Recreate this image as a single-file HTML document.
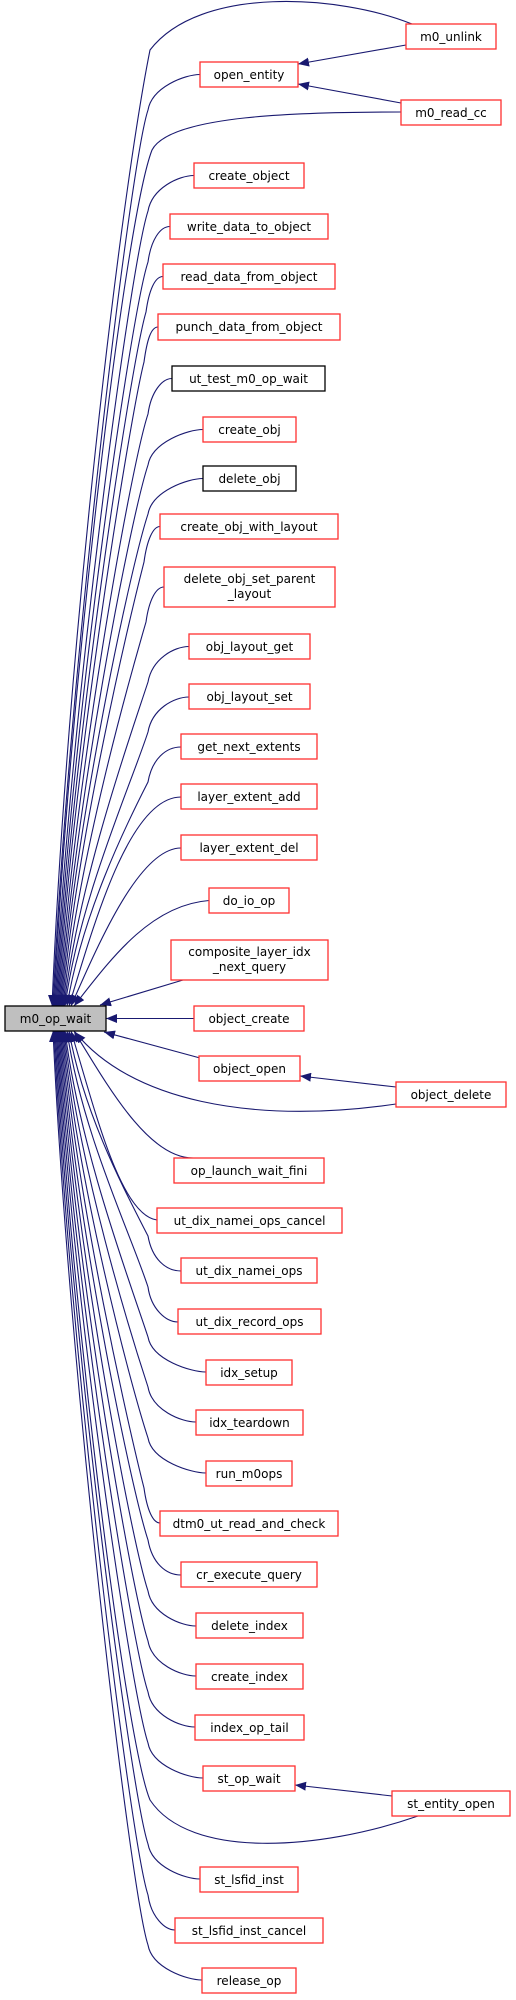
<!DOCTYPE html>
<html><head><meta charset="utf-8"><style>
html,body{margin:0;padding:0;background:#fff;}
svg{display:block;}
text{font-family:"DejaVu Sans","Liberation Sans",sans-serif;font-size:12px;fill:#000;}
.e{fill:none;stroke:#191970;stroke-width:1.1;}
.r{fill:#fff;stroke:#ff3030;stroke-width:1.3;}
.k{fill:#fff;stroke:#000;stroke-width:1.3;}
</style></head><body>
<svg width="516" height="2000" viewBox="0 0 516 2000" xmlns="http://www.w3.org/2000/svg">
<defs>
<marker id="a" markerUnits="userSpaceOnUse" markerWidth="12" markerHeight="9" refX="11" refY="4.5" orient="auto-start-reverse"><path d="M0,0 L11,4.5 L0,9 z" fill="#191970"/></marker>
</defs>
<g class="e" marker-start="url(#a)">
<path d="M52,1006 C67,650 120,200 150,50 C200,-15 340,-5 412,24"/>
<path d="M53,1006 C68,680 130,164 148,110 C152,87 185,74.5 200,74.5"/>
<path d="M54,1006 C69,690 125,220 152,150 C170,115 300,112 401,112"/>
<path d="M55,1006 C70,715 130,266 148,211 C152,188 179,175.5 194,175.5"/>
<path d="M56,1006 C71,733 130,317 148,262 C151,240 160,226.5 170,226.5"/>
<path d="M57,1006 C72,751 130,367 146,312 C149,290 155,276.5 163,276.5"/>
<path d="M58,1006 C73,768 130,417 144,362 C147,340 151,327 158,327"/>
<path d="M59,1006 C74,786 130,469 148,414 C151,392 162,378.5 172,378.5"/>
<path d="M60,1006 C75,804 130,520 148,465 C152,442 188,429.5 203,429.5"/>
<path d="M61,1006 C76,821 130,569 148,514 C152,491 188,478.5 203,478.5"/>
<path d="M62,1006 C77,838 130,617 144,562 C147,540 153,526.5 160,526.5"/>
<path d="M63,1006 C78,859 130,677 146,622 C149,600 156,587 164,587"/>
<path d="M64,1006 C79,880 130,737 148,682 C152,659 174,646.5 189,646.5"/>
<path d="M65,1006 C80,898 130,787 148,732 C152,709 174,697 189,697"/>
<path d="M67,1006 C82,915 125,827 148,782 C152,759 166,747 181,747"/>
<path d="M69,1006 C95,920 130,797 181,797"/>
<path d="M71,1006 C100,940 140,848 181,848"/>
<path d="M74,1006 C110,960 150,905 209,900.5"/>
<path d="M100,1005 L183,980"/>
<path d="M106,1018.5 L194,1018.5"/>
<path d="M104,1032 L200,1058"/>
<path d="M75,1032 C130,1100 250,1125 396,1104"/>
<path d="M74,1031 C110,1090 150,1160 195,1158"/>
<path d="M71,1031 C95,1110 120,1215 157,1220"/>
<path d="M69,1031 C84,1115 125,1191 148,1236 C152,1259 166,1271 181,1271"/>
<path d="M67,1031 C82,1133 130,1232 148,1287 C151,1309 166,1322 178,1322"/>
<path d="M65,1031 C80,1150 130,1282 148,1337 C152,1360 191,1372 206,1372"/>
<path d="M64,1031 C79,1168 130,1332 148,1387 C152,1410 181,1422 196,1422"/>
<path d="M63,1031 C78,1186 130,1383 148,1438 C152,1461 191,1473 206,1473"/>
<path d="M62,1031 C77,1203 130,1433 144,1488 C147,1510 153,1523 160,1523"/>
<path d="M61,1031 C76,1221 130,1485 148,1540 C152,1563 166,1575 181,1575"/>
<path d="M60,1031 C75,1239 130,1536 148,1591 C152,1614 181,1626 196,1626"/>
<path d="M59,1031 C74,1257 130,1586 148,1641 C152,1664 181,1676 196,1676"/>
<path d="M58,1031 C73,1275 130,1637 148,1692 C152,1715 180,1727 195,1727"/>
<path d="M57,1031 C72,1292 130,1688 148,1743 C152,1766 188,1778 203,1778"/>
<path d="M56,1031 C71,1300 125,1740 150,1800 C190,1860 320,1850 418,1816"/>
<path d="M55,1031 C70,1328 130,1789 148,1844 C152,1867 185,1879 200,1879"/>
<path d="M54,1031 C69,1346 130,1840 148,1895 C151,1917 165,1930 175,1930"/>
<path d="M53,1031 C68,1363 130,1890 148,1945 C152,1968 187,1980 202,1980"/>
<path d="M298,64 L406,45"/>
<path d="M298,84 L401,103"/>
<path d="M300,1076 L396,1087"/>
<path d="M295,1785 L392,1796"/>
</g>
<g>
<rect x="5" y="1006" width="101" height="25" fill="#bfbfbf" stroke="#000" stroke-width="1.3"/>
<text x="55.5" y="1023" text-anchor="middle">m0_op_wait</text>
</g>
<g text-anchor="middle">
<rect class="r" x="406" y="24" width="90" height="25"/><text x="451" y="41">m0_unlink</text>
<rect class="r" x="200" y="62" width="98" height="25"/><text x="249" y="79">open_entity</text>
<rect class="r" x="401" y="100" width="100" height="25"/><text x="451" y="117">m0_read_cc</text>
<rect class="r" x="194" y="163" width="110" height="25"/><text x="249" y="180">create_object</text>
<rect class="r" x="170" y="214" width="158" height="25"/><text x="249" y="231">write_data_to_object</text>
<rect class="r" x="163" y="264" width="172" height="25"/><text x="249" y="281">read_data_from_object</text>
<rect class="r" x="158" y="314" width="182" height="26"/><text x="249" y="331">punch_data_from_object</text>
<rect class="k" x="172" y="366" width="153" height="25"/><text x="248.5" y="383">ut_test_m0_op_wait</text>
<rect class="r" x="203" y="417" width="93" height="25"/><text x="249.5" y="434">create_obj</text>
<rect class="k" x="203" y="466" width="93" height="25"/><text x="249.5" y="483">delete_obj</text>
<rect class="r" x="160" y="514" width="178" height="25"/><text x="249" y="531">create_obj_with_layout</text>
<rect class="r" x="164" y="567" width="171" height="40"/><text x="249.5" y="583">delete_obj_set_parent</text><text x="249.5" y="598">_layout</text>
<rect class="r" x="189" y="634" width="121" height="25"/><text x="249.5" y="651">obj_layout_get</text>
<rect class="r" x="189" y="684" width="121" height="25"/><text x="249.5" y="701">obj_layout_set</text>
<rect class="r" x="181" y="734" width="136" height="25"/><text x="249" y="751">get_next_extents</text>
<rect class="r" x="181" y="784" width="136" height="25"/><text x="249" y="801">layer_extent_add</text>
<rect class="r" x="181" y="835" width="136" height="25"/><text x="249" y="852">layer_extent_del</text>
<rect class="r" x="209" y="888" width="80" height="25"/><text x="249" y="905">do_io_op</text>
<rect class="r" x="171" y="940" width="157" height="40"/><text x="249.5" y="956">composite_layer_idx</text><text x="249.5" y="971">_next_query</text>
<rect class="r" x="194" y="1006" width="110" height="25"/><text x="249" y="1023">object_create</text>
<rect class="r" x="199" y="1056" width="101" height="25"/><text x="249.5" y="1073">object_open</text>
<rect class="r" x="396" y="1082" width="110" height="25"/><text x="451" y="1099">object_delete</text>
<rect class="r" x="174" y="1158" width="150" height="25"/><text x="249" y="1175">op_launch_wait_fini</text>
<rect class="r" x="157" y="1208" width="185" height="25"/><text x="249.5" y="1225">ut_dix_namei_ops_cancel</text>
<rect class="r" x="181" y="1258" width="136" height="25"/><text x="249" y="1275">ut_dix_namei_ops</text>
<rect class="r" x="178" y="1309" width="143" height="25"/><text x="249.5" y="1326">ut_dix_record_ops</text>
<rect class="r" x="206" y="1360" width="86" height="25"/><text x="249" y="1377">idx_setup</text>
<rect class="r" x="196" y="1410" width="107" height="25"/><text x="249.5" y="1427">idx_teardown</text>
<rect class="r" x="206" y="1461" width="86" height="25"/><text x="249" y="1478">run_m0ops</text>
<rect class="r" x="160" y="1511" width="178" height="25"/><text x="249" y="1528">dtm0_ut_read_and_check</text>
<rect class="r" x="181" y="1562" width="136" height="25"/><text x="249" y="1579">cr_execute_query</text>
<rect class="r" x="196" y="1613" width="107" height="25"/><text x="249.5" y="1630">delete_index</text>
<rect class="r" x="196" y="1664" width="107" height="25"/><text x="249.5" y="1681">create_index</text>
<rect class="r" x="195" y="1715" width="109" height="25"/><text x="249.5" y="1732">index_op_tail</text>
<rect class="r" x="203" y="1766" width="92" height="25"/><text x="249" y="1783">st_op_wait</text>
<rect class="r" x="392" y="1791" width="118" height="25"/><text x="451" y="1808">st_entity_open</text>
<rect class="r" x="200" y="1867" width="98" height="25"/><text x="249" y="1884">st_lsfid_inst</text>
<rect class="r" x="175" y="1918" width="148" height="25"/><text x="249" y="1935">st_lsfid_inst_cancel</text>
<rect class="r" x="202" y="1968" width="94" height="25"/><text x="249" y="1985">release_op</text>
</g>
</svg>
</body></html>
